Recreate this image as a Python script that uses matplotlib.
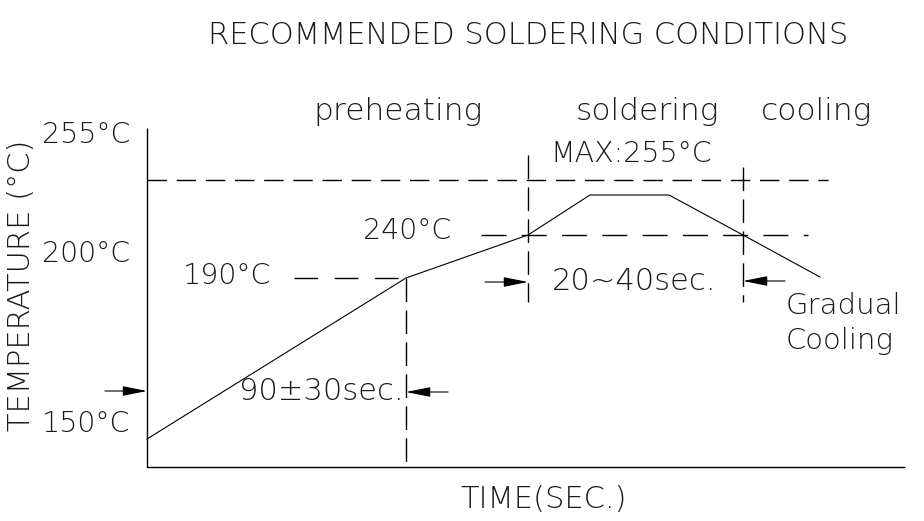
import matplotlib
matplotlib.use("Agg")
import matplotlib.pyplot as plt
from matplotlib.patches import FancyArrowPatch
from matplotlib import font_manager

plt.rcParams['lines.scale_dashes'] = False

# ---- data (schematic drawing units; y grows downward) ----
profile_x = [147, 406, 528, 590, 669, 743, 820]
profile_y = [439, 278, 235, 195, 195, 235, 277]

axis_x = [147, 147, 905]
axis_y = [128, 467, 467]

max_line_x = [147, 828]
max_line_y = [180, 180]
l240_x = [481, 808]
l240_y = [235, 235]
l190_x = [294, 406]
l190_y = [278, 278]

vlines_x = [406, 528, 743]
vlines_top = [278, 155, 167]
vlines_bottom = [467, 302, 302]

arrows_from_x = [105, 485, 785, 448]
arrows_to_x = [147, 528, 743, 406]
arrows_y = [391, 282, 281, 392]

title = "RECOMMENDED SOLDERING CONDITIONS"
phase_labels = ["preheating", "soldering", "cooling"]
phase_x = [398, 647, 817]
temp_labels = ["255°C", "200°C", "150°C"]
temp_label_y = [135, 254, 424]

# pick a light font if available
fams = {(f.name, f.weight) for f in font_manager.fontManager.ttflist}
FONT = 'DejaVu Sans'
WEIGHT = 'normal'
for name in ['DejaVu Sans', 'Lato', 'Roboto', 'Open Sans', 'Inter', 'Noto Sans']:
    lights = [w for (n, w) in fams if n == name and isinstance(w, int) and w < 400]
    if lights:
        FONT = name
        WEIGHT = min(lights)
        break

TC = '#1a1a1a'
fig = plt.figure(figsize=(9.24, 5.21), dpi=100)
ax = fig.add_axes([0, 0, 1, 1])
ax.set_xlim(0, 924)
ax.set_ylim(521, 0)
ax.axis('off')

def txt(x, y, s, size=20.5, ha='center', va='center', **kw):
    ax.text(x, y, s, fontsize=size, ha=ha, va=va, color=TC,
            family=FONT, fontweight=WEIGHT, **kw)

# axes lines
ax.plot(axis_x, axis_y, color='black', lw=1.0, solid_capstyle='butt')
# profile
ax.plot(profile_x, profile_y, color='black', lw=0.8)

ax.plot(max_line_x, max_line_y, color='black', lw=1.0, linestyle=(0, (14, 7)))
ax.plot(l240_x, l240_y, color='black', lw=1.0, linestyle=(0, (18, 11)))
ax.plot(l190_x, l190_y, color='black', lw=1.0, linestyle=(0, (17, 12)))
for x, t, b in zip(vlines_x, vlines_top, vlines_bottom):
    ax.plot([x, x], [t, b], color='black', lw=1.0, linestyle=(0, (17, 6)))

for x0, x1, y in zip(arrows_from_x, arrows_to_x, arrows_y):
    a = FancyArrowPatch((x0, y), (x1, y), arrowstyle='-|>,head_length=1.0,head_width=0.2',
                        mutation_scale=15, color='black', lw=0.8,
                        shrinkA=0, shrinkB=0)
    ax.add_patch(a)

# texts
txt(528, 35, title, size=22)
for s, x in zip(phase_labels, phase_x):
    txt(x, 111, s, size=22.5)
for s, y in zip(temp_labels, temp_label_y):
    txt(130, y, s, ha='right')
txt(22, 285, "TEMPERATURE (°C)", size=22, rotation=90)
txt(631, 154, "MAX:255°C")
txt(407, 231, "240°C")
txt(227, 276, "190°C")
txt(634, 282, "20~40sec.", size=22)
txt(321, 392, "90±30sec.", size=22)
txt(786, 306, "Gradual", size=21, ha='left')
txt(786, 341, "Cooling", size=21, ha='left')
txt(544, 499, "TIME(SEC.)", size=22)

fig.savefig("out.png", dpi=100)
